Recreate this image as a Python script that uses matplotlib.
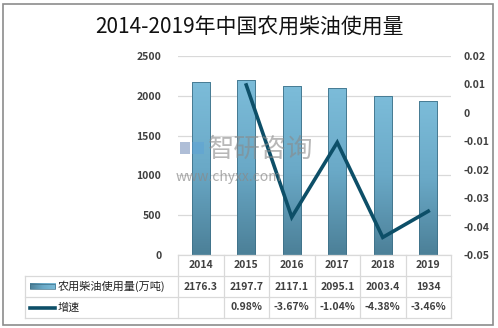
import matplotlib.pyplot as plt
import numpy as np
from matplotlib.patches import Rectangle
from matplotlib.colors import LinearSegmentedColormap

plt.rcParams['font.family'] = ['Noto Sans CJK SC', 'DejaVu Sans']

years = ["2014", "2015", "2016", "2017", "2018", "2019"]
usage = [2176.3, 2197.7, 2117.1, 2095.1, 2003.4, 1934]
growth = [None, 0.0098, -0.0367, -0.0104, -0.0438, -0.0346]
usage_labels = ["2176.3", "2197.7", "2117.1", "2095.1", "2003.4", "1934"]
growth_labels = ["", "0.98%", "-3.67%", "-1.04%", "-4.38%", "-3.46%"]
bar_name = "农用柴油使用量(万吨)"
line_name = "增速"
title = "2014-2019年中国农用柴油使用量"

W, H = 498, 328
fig = plt.figure(figsize=(W / 100, H / 100), dpi=100)


def box(x0, y0, x1, y1):
    # pixel box (top-left origin) -> figure fraction
    return [x0 / W, 1 - y1 / H, (x1 - x0) / W, (y1 - y0) / H]


grid_c = "#d9d9d9"
txt_c = "#404040"
line_c = "#0d4f68"

# outer border
fig.add_artist(Rectangle((3 / W, 3 / H), 490 / W, 321 / H, transform=fig.transFigure,
                         fill=False, edgecolor="#8c8c8c", linewidth=1.2))

fig.text(0.5, 1 - 27 / H, title, ha="center", va="center", fontsize=15,
         color="#111111")

# main axes
ax = fig.add_axes(box(178, 56, 451, 255))
x = np.arange(len(years))
ax.yaxis.grid(True, color=grid_c, linewidth=0.9)
ax.set_axisbelow(True)
ax.set_xticks([])
for s in ax.spines.values():
    s.set_visible(False)
ax.tick_params(axis="y", length=0, pad=12, labelsize=7.5, labelcolor=txt_c)

grad = np.linspace(0, 1, 100).reshape(-1, 1)
cmap = LinearSegmentedColormap.from_list("bar", ["#4c8098", "#6aa9c7", "#7cbcd9"])
bars = ax.bar(x, usage, width=0.4, color="none", edgecolor="#3f7188",
              linewidth=0.6, zorder=2)
for b in bars:
    bx, by = b.get_x(), b.get_y()
    bw, bh = b.get_width(), b.get_height()
    im = ax.imshow(grad, extent=[bx, bx + bw, by, by + bh], origin="lower",
                   cmap=cmap, aspect="auto", zorder=1.5)
    im.set_clip_path(b)
ax.set_xlim(-0.5, len(years) - 0.5)
ax.set_ylim(0, 2500)
ax.set_yticks(range(0, 2501, 500))
for lab in ax.get_yticklabels():
    lab.set_fontweight("bold")

ax2 = ax.twinx()
ax2.set_ylim(-0.05, 0.02)
ax2.set_yticks(np.round(np.arange(-0.05, 0.021, 0.01), 2))
ax2.set_yticklabels(["-0.05", "-0.04", "-0.03", "-0.02", "-0.01", "0", "0.01", "0.02"])
for s in ax2.spines.values():
    s.set_visible(False)
ax2.tick_params(axis="y", length=0, pad=9, labelsize=7.5, labelcolor=txt_c)
for lab in ax2.get_yticklabels():
    lab.set_fontweight("bold")
gx = [i for i, g in enumerate(growth) if g is not None]
gy = [g for g in growth if g is not None]
ax2.plot(gx, gy, color=line_c, linewidth=2.6, solid_joinstyle="miter", zorder=3)

# watermark
fig.text(208 / W, 1 - 149 / H, "智研咨询", ha="left", va="center", fontsize=19,
         color="#8a8a8a", alpha=0.6)
fig.text(176 / W, 1 - 177 / H, "www.chyxx.com", ha="left", va="center",
         fontsize=10, color="#8a8a8a", alpha=0.7)
fig.add_artist(Rectangle((180 / W, 1 - 154 / H), 10 / W, 12 / H,
                         transform=fig.transFigure, facecolor="#4f6fa8",
                         edgecolor="none", alpha=0.45))
fig.add_artist(Rectangle((192 / W, 1 - 154 / H), 12 / W, 12 / H,
                         transform=fig.transFigure, facecolor="#5aa0d8",
                         edgecolor="none", alpha=0.45))

# data table
label_units = (178 - 25) / ((451 - 178) / len(years))
tb = fig.add_axes(box(25, 255, 451, 318))
left = -0.5 - label_units
right = len(years) - 0.5
tb.axis("off")
kw = dict(color=grid_c, linewidth=0.9, clip_on=False)
tb.plot([-0.5, right], [0, 0], **kw)
for r in (1, 2, 3):
    tb.plot([left, right], [r, r], **kw)
tb.plot([left, left], [1, 3], **kw)
for c in range(len(years) + 1):
    tb.plot([c - 0.5, c - 0.5], [0, 3], **kw)

for i, yr in enumerate(years):
    tb.text(i, 0.5, yr, ha="center", va="center", fontsize=7.5, color=txt_c,
            fontweight="bold")
    tb.text(i, 1.5, usage_labels[i], ha="center", va="center", fontsize=7.5,
            color=txt_c, fontweight="bold")
    tb.text(i, 2.5, growth_labels[i], ha="center", va="center", fontsize=7.5,
            color=txt_c, fontweight="bold")

key_w = 0.55
kx = left + 0.12
tb.imshow(grad.T, extent=[kx, kx + key_w, 1.62, 1.38], cmap=cmap, aspect="auto")
tb.add_patch(Rectangle((kx, 1.38), key_w, 0.24, fill=False, edgecolor="#3f7188",
                       linewidth=0.5))
tb.plot([kx, kx + key_w], [2.5, 2.5], color=line_c, linewidth=2.6)
tb.text(kx + key_w + 0.05, 1.5, bar_name, ha="left", va="center", fontsize=8,
        color="#222222")
tb.text(kx + key_w + 0.05, 2.5, line_name, ha="left", va="center", fontsize=8,
        color="#222222")
tb.set_xlim(left, right)
tb.set_ylim(3, 0)

fig.savefig("out.png", dpi=100)
